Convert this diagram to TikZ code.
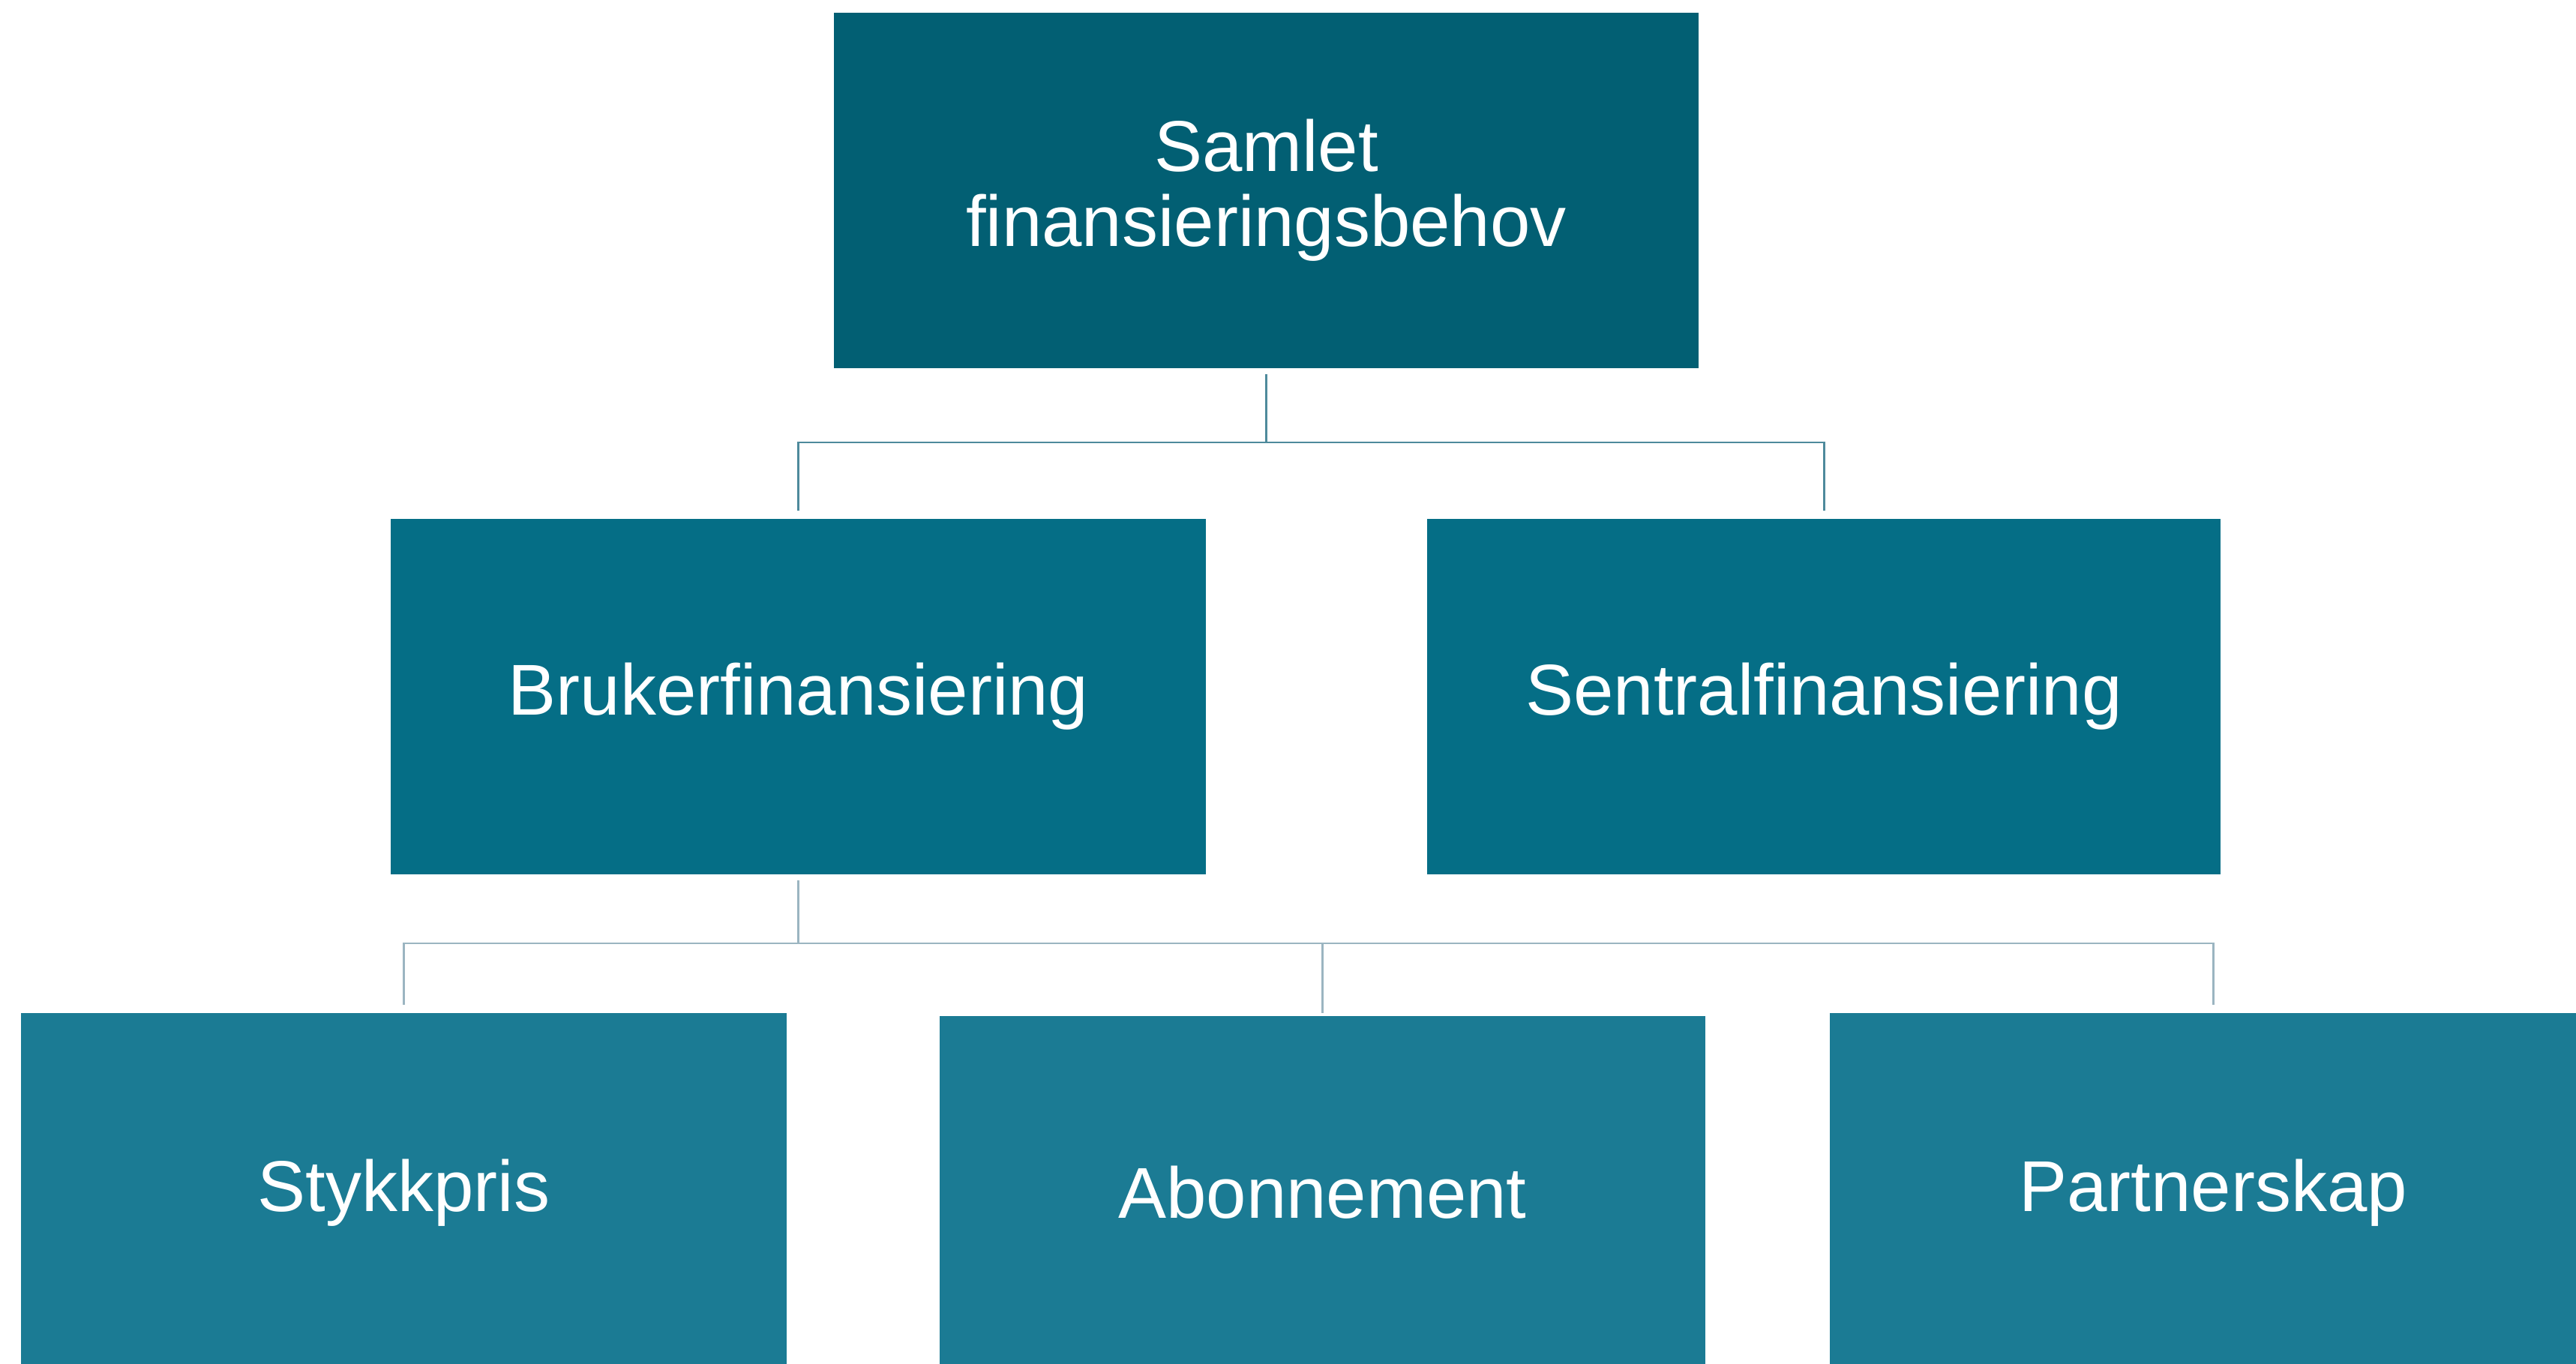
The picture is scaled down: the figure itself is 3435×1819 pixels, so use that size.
\documentclass[tikz,border=0pt]{standalone}
\usepackage{fontspec}
\setmainfont{Liberation Sans}
\definecolor{ctop}{HTML}{025F73}
\definecolor{cmid}{HTML}{056E86}
\definecolor{cbot}{HTML}{1B7B94}
\definecolor{lnA}{HTML}{4E8A9C}
\definecolor{lnB}{HTML}{9BB5C1}
\begin{document}
\begin{tikzpicture}[x=0.01cm,y=-0.01cm,
  box/.style={draw=none,inner sep=0pt,text=white,align=center,
    font=\fontsize{27.3}{28.4}\selectfont},
  connA/.style={draw=lnA,line width=0.85pt},
  connB/.style={draw=lnB,line width=0.85pt}]
\useasboundingbox (0,0) rectangle (3435,1819);
\node[box,fill=ctop,minimum width=11.53cm,minimum height=4.74cm] (top) at (1688.5,254) {Samlet\\finansieringsbehov};
\node[box,fill=cmid,minimum width=10.87cm,minimum height=4.74cm] (ml) at (1064.5,929) {Brukerfinansiering};
\node[box,fill=cmid,minimum width=10.58cm,minimum height=4.74cm] (mr) at (2432,929) {Sentralfinansiering};
\node[box,fill=cbot,minimum width=10.21cm,minimum height=4.80cm] (b1) at (538.5,1591) {Stykkpris};
\node[box,fill=cbot,minimum width=10.21cm,minimum height=4.70cm] (b2) at (1763.5,1590) {Abonnement};
\node[box,fill=cbot,minimum width=10.22cm,minimum height=4.80cm] (b3) at (2951,1591) {Partnerskap};
\coordinate (j1) at (1688.5,590);
\coordinate (j2) at (1064.5,1258);
\draw[connA] ([yshift=-2pt]top.south) -- (j1);
\draw[connA] (j1) -| ([yshift=3pt]ml.north);
\draw[connA] (j1) -| ([yshift=3pt]mr.north);
\draw[connB] ([yshift=-2pt]ml.south) -- (j2);
\draw[connB] (j2) -| ([yshift=3pt]b1.north);
\draw[connB] (j2) -| ([yshift=1pt]b2.north);
\draw[connB] (j2) -| ([yshift=3pt]b3.north);
\end{tikzpicture}
\end{document}
